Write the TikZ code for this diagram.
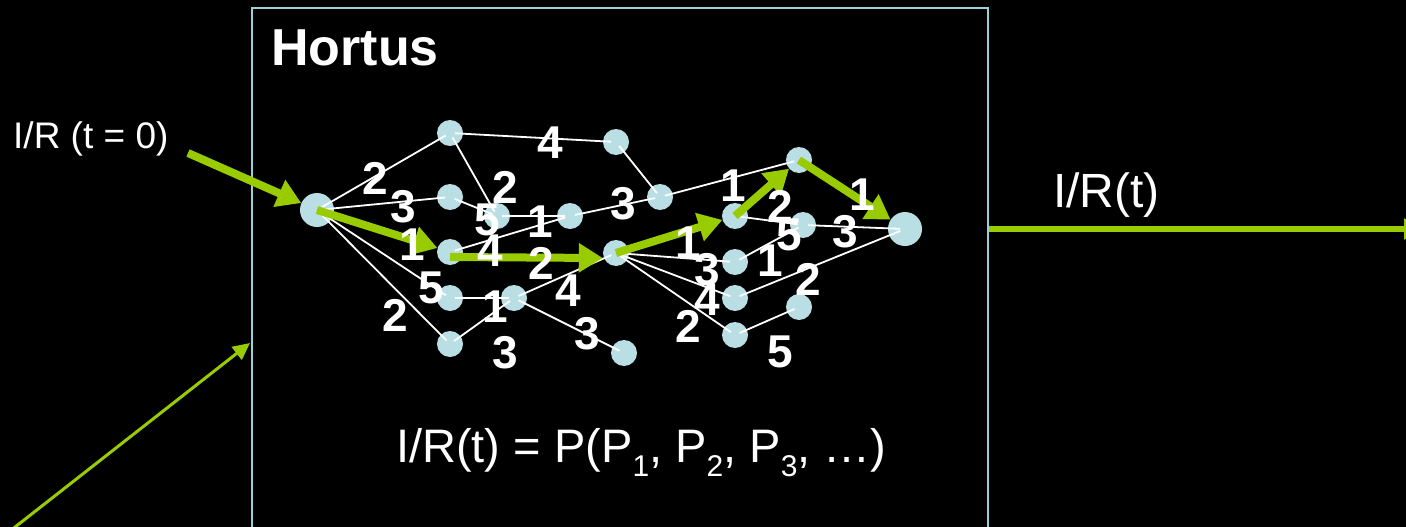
\documentclass[tikz,border=0pt]{standalone}
\usepackage{fontspec}
\setmainfont{Liberation Sans}
\usetikzlibrary{arrows.meta}
\definecolor{nodeblue}{HTML}{B9DFE4}
\definecolor{boxblue}{HTML}{9DD0D6}
\definecolor{pathgreen}{HTML}{99CC00}
\begin{document}
\begin{tikzpicture}[x=1pt,y=-1pt,
  vtx/.style={circle,fill=nodeblue,minimum size=26pt,inner sep=0pt},
  bigvtx/.style={vtx,minimum size=34pt},
  link/.style={draw=white,line width=1.8pt,shorten <=5pt,shorten >=5pt},
  route/.style={draw=pathgreen,line width=8pt,-{Triangle[length=24pt,width=28pt]}},
  outroute/.style={draw=pathgreen,line width=6pt,-{Triangle[length=20pt,width=20pt]}},
  feed/.style={draw=pathgreen,line width=3pt,-{Triangle[length=17pt,width=16pt]}},
  wt/.style={text=white,font=\bfseries\fontsize{46}{46}\selectfont,inner sep=0pt},
  plain/.style={text=white,inner sep=0pt,anchor=base west}
]
\fill[black] (0,0) rectangle (1406,527);
\useasboundingbox (0,0) rectangle (1406,527);
\clip (0,0) rectangle (1406,527);

% box
\node[draw=boxblue,line width=2pt,minimum width=736pt,minimum height=545pt,
      anchor=north west,inner sep=0pt] (hortus) at (251,7) {};
\node[plain,font=\bfseries\fontsize{52}{52}\selectfont] (title) at (271,66) {Hortus};

% vertices
\node[bigvtx] (S) at (317,210) {};
\node[vtx] (A) at (450,133) {};
\node[vtx] (B) at (450,197) {};
\node[vtx] (C) at (450,252) {};
\node[vtx] (D) at (450,298) {};
\node[vtx] (E) at (450,344) {};
\node[vtx] (F) at (497,216) {};
\node[vtx] (G) at (570,216) {};
\node[vtx] (H) at (616,142) {};
\node[vtx] (I) at (660,197) {};
\node[vtx] (J) at (514,298) {};
\node[vtx] (K) at (616,253) {};
\node[vtx] (L) at (624,353) {};
\node[vtx] (M) at (735,216) {};
\node[vtx] (N) at (799,160) {};
\node[vtx] (O) at (803,225) {};
\node[vtx] (P) at (735,262) {};
\node[vtx] (Q) at (735,298) {};
\node[vtx] (R) at (735,335) {};
\node[vtx] (T) at (799,307) {};
\node[bigvtx] (Z) at (905,229) {};

% white links
\draw[link] (S.center) -- (A.center);
\draw[link] (S.center) -- (B.center);
\draw[link] (S.center) -- (D.center);
\draw[link] (S.center) -- (E.center);
\draw[link] (A.center) -- (H.center);
\draw[link] (A.center) -- (F.center);
\draw[link] (B.center) -- (F.center);
\draw[link] (F.center) -- (G.center);
\draw[link] (C.center) -- (G.center);
\draw[link] (G.center) -- (I.center);
\draw[link] (H.center) -- (I.center);
\draw[link] (D.center) -- (J.center);
\draw[link] (E.center) -- (J.center);
\draw[link] (J.center) -- (K.center);
\draw[link] (J.center) -- (L.center);
\draw[link] (I.center) -- (N.center);
\draw[link] (K.center) -- (P.center);
\draw[link] (K.center) -- (Q.center);
\draw[link] (K.center) -- (R.center);
\draw[link] (M.center) -- (O.center);
\draw[link] (P.center) -- (O.center);
\draw[link] (O.center) -- (Z.center);
\draw[link] (Q.center) -- (Z.center);
\draw[link] (R.center) -- (T.center);

% green route
\coordinate (inStart) at (188,153);
\draw[route] (inStart) -- (S);
\draw[route] (S.center) -- (C);
\draw[route] ([yshift=-5pt]C.center) -- ([yshift=-5pt]K.west);
\draw[route] (K.center) -- (M);
\draw[route] (M.center) -- (N);
\draw[route] (N.center) -- (Z);

% output and feed arrows
\coordinate (outEnd) at (1424,229);
\draw[outroute] (Z -| hortus.east) -- (outEnd);
\coordinate (feedStart) at (10,531);
\coordinate (feedTip) at (250,343);
\draw[feed] (feedStart) -- (feedTip);

% weights
\node[wt] (w1) at (375,178) {2};
\node[wt] (w2) at (403,207) {3};
\node[wt] (w3) at (412,245) {1};
\node[wt] (w4) at (431,288) {5};
\node[wt] (w5) at (395,315) {2};
\node[wt] (w6) at (550,143) {4};
\node[wt] (w7) at (505,187) {2};
\node[wt] (w8) at (487,220) {5};
\node[wt] (w9) at (540,222) {1};
\node[wt] (w10) at (623,204) {3};
\node[wt] (w11) at (490,251) {4};
\node[wt] (w12) at (541,263) {2};
\node[wt] (w13) at (495,307) {1};
\node[wt] (w14) at (568,291) {4};
\node[wt] (w15) at (505,353) {3};
\node[wt] (w16) at (587,334) {3};
\node[wt] (w17) at (688,243) {1};
\node[wt] (w18) at (707,270) {3};
\node[wt] (w19) at (707,300) {4};
\node[wt] (w20) at (688,326) {2};
\node[wt] (w21) at (733,186) {1};
\node[wt] (w22) at (780,206) {2};
\node[wt] (w23) at (789,235) {5};
\node[wt] (w24) at (770,261) {1};
\node[wt] (w25) at (808,279) {2};
\node[wt] (w26) at (845,232) {3};
\node[wt] (w27) at (862,195) {1};
\node[wt] (w28) at (780,352) {5};

% texts
\node[plain,font=\fontsize{37}{37}\selectfont] (inText) at (13,148) {I/R (t = 0)};
\node[plain,font=\fontsize{48}{48}\selectfont] (outText) at (1053,207) {I/R(t)};
\newcommand{\subd}[1]{\raisebox{-14pt}{\fontsize{30}{30}\selectfont #1}}
\node[plain,font=\fontsize{47}{47}\selectfont] (formula) at (396,462)
  {I/R(t) = P(P\subd{1}, P\subd{2}, P\subd{3}, \ldots)};
\end{tikzpicture}
\end{document}
